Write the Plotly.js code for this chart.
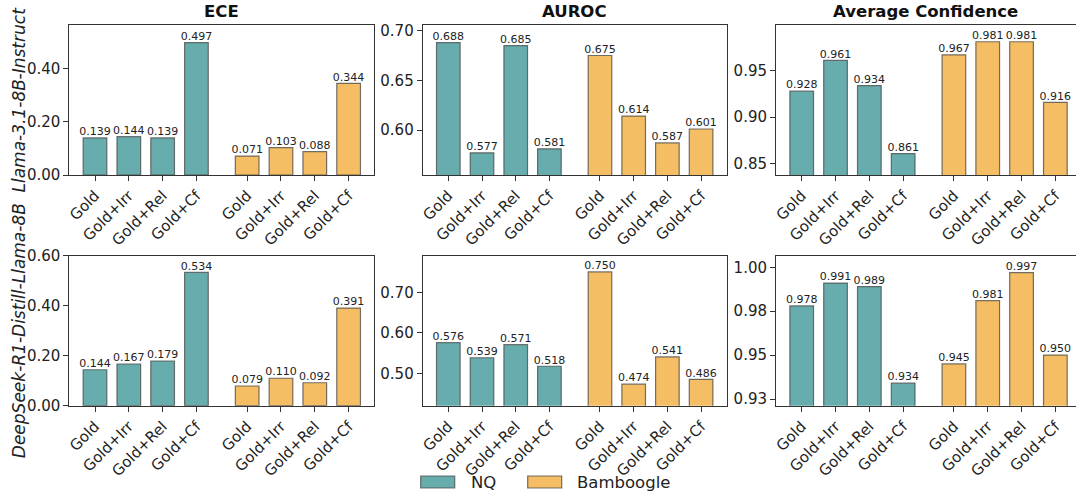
<!DOCTYPE html>
<html>
<head>
<meta charset="utf-8">
<script src="https://cdn.plot.ly/plotly-3.0.1.min.js"></script>
<style>html,body{margin:0;padding:0;background:#fff;}#chart{width:1076px;height:493px;}</style>
</head>
<body>
<div id="chart"></div>
<script>
// ---- data ----
const categories = ['Gold', 'Gold+Irr', 'Gold+Rel', 'Gold+Cf'];
const datasets = ['NQ', 'Bamboogle'];
const metrics = ['ECE', 'AUROC', 'Average Confidence'];
const models = ['Llama-3.1-8B-Instruct', 'DeepSeek-R1-Distill-Llama-8B'];

const llamaEceNQ = [0.139, 0.144, 0.139, 0.497];
const llamaEceBB = [0.071, 0.103, 0.088, 0.344];
const llamaAurocNQ = [0.688, 0.577, 0.685, 0.581];
const llamaAurocBB = [0.675, 0.614, 0.587, 0.601];
const llamaConfNQ = [0.928, 0.961, 0.934, 0.861];
const llamaConfBB = [0.967, 0.981, 0.981, 0.916];

const dsEceNQ = [0.144, 0.167, 0.179, 0.534];
const dsEceBB = [0.079, 0.110, 0.092, 0.391];
const dsAurocNQ = [0.576, 0.539, 0.571, 0.518];
const dsAurocBB = [0.750, 0.474, 0.541, 0.486];
const dsConfNQ = [0.978, 0.991, 0.989, 0.934];
const dsConfBB = [0.945, 0.981, 0.997, 0.950];

// ---- layout / style ----
const colors = {NQ: '#67adad', Bamboogle: '#f5be64'};
const edge = 'rgba(70,70,70,0.75)';
const posNQ = [0, 1, 2, 3];
const posBB = [4.5, 5.5, 6.5, 7.5];
const W = 1076, H = 493;
const colPx = [[69.3, 374.3], [422.7, 726.7], [776, 1076]];
const rowPx = [[25, 175], [255.7, 405.7]];
const xRanges = [[-0.76, 8.26], [-0.76, 8.26], [-0.76, 8.11]];
const yRanges = [
  [[0, 0.563], [0.5547, 0.7057], [0.838, 0.999]],
  [[0, 0.601], [0.421, 0.790], [0.9212, 1.0066]]
];
const yTicks = [
  [{v: [0, 0.2, 0.4], t: ['0.00', '0.20', '0.40']},
   {v: [0.6, 0.65, 0.7], t: ['0.60', '0.65', '0.70']},
   {v: [0.85, 0.9, 0.95], t: ['0.85', '0.90', '0.95']}],
  [{v: [0, 0.2, 0.4, 0.6], t: ['0.00', '0.20', '0.40', '0.60']},
   {v: [0.5, 0.6, 0.7], t: ['0.50', '0.60', '0.70']},
   {v: [0.925, 0.95, 0.975, 1.0], t: ['0.93', '0.95', '0.98', '1.00']}]
];
const values = [
  [[llamaEceNQ, llamaEceBB], [llamaAurocNQ, llamaAurocBB], [llamaConfNQ, llamaConfBB]],
  [[dsEceNQ, dsEceBB], [dsAurocNQ, dsAurocBB], [dsConfNQ, dsConfBB]]
];
// legend placement (px): swatch left edges and text left edges
const legendSwatchX = [420.7, 527.7];
const legendTextX = [469, 575];
const legendY = 482;

const FONT = 'DejaVu Sans, sans-serif';
const traces = [];
const layout = {
  width: W, height: H,
  margin: {l: 0, r: 0, t: 0, b: 0},
  paper_bgcolor: '#fff', plot_bgcolor: '#fff',
  font: {family: FONT, color: '#222'},
  showlegend: false,
  bargap: 0,
  annotations: [],
  shapes: []
};

let idx = 0;
for (let r = 0; r < 2; r++) {
  for (let c = 0; c < 3; c++) {
    idx++;
    const xa = 'xaxis' + (idx === 1 ? '' : idx);
    const ya = 'yaxis' + (idx === 1 ? '' : idx);
    const xr = 'x' + (idx === 1 ? '' : idx);
    const yr = 'y' + (idx === 1 ? '' : idx);
    layout[xa] = {
      domain: [colPx[c][0] / W, Math.min(1, colPx[c][1] / W)],
      anchor: yr, range: xRanges[c],
      tickmode: 'array', tickvals: posNQ.concat(posBB), ticktext: categories.concat(categories),
      tickangle: -45, ticks: 'outside', ticklen: 5, tickwidth: 1, tickcolor: '#333',
      tickfont: {size: 15, family: FONT, color: '#222'},
      showline: true, linecolor: '#333', linewidth: 1, mirror: true,
      showgrid: false, zeroline: false, fixedrange: true
    };
    layout[ya] = {
      domain: [1 - rowPx[r][1] / H, 1 - rowPx[r][0] / H],
      anchor: xr, range: yRanges[r][c],
      tickmode: 'array', tickvals: yTicks[r][c].v, ticktext: yTicks[r][c].t,
      ticks: 'outside', ticklen: 5, tickwidth: 1, tickcolor: '#333',
      tickfont: {size: 15, family: FONT, color: '#222'},
      showline: true, linecolor: '#333', linewidth: 1, mirror: true,
      showgrid: false, zeroline: false, fixedrange: true
    };
    if (c === 0) {
      // row label (model name), placed like a y-axis title
      layout.annotations.push({
        text: '<i>' + models[r] + '</i>', xref: 'paper', yref: 'paper',
        x: 18.5 / W, y: 1 - (rowPx[r][0] + rowPx[r][1]) / 2 / H,
        xanchor: 'center', yanchor: 'middle', textangle: -90, showarrow: false,
        font: {size: 17, family: FONT, color: '#222'}
      });
    }
    if (r === 0) {
      layout.annotations.push({
        text: '<b>' + metrics[c] + '</b>', xref: 'paper', yref: 'paper',
        x: (colPx[c][0] + Math.min(colPx[c][1], 1075)) / 2 / W,
        y: 1 - rowPx[r][0] / H, yanchor: 'bottom', xanchor: 'center', yshift: 2,
        showarrow: false, font: {size: 16.5, family: FONT, color: '#111'}
      });
    }
    const pos = [posNQ, posBB];
    for (let d = 0; d < 2; d++) {
      const name = datasets[d];
      traces.push({
        type: 'bar', x: pos[d], y: values[r][c][d], width: 0.7,
        xaxis: xr, yaxis: yr, name: name, legendgroup: name,
        showlegend: false,
        marker: {color: colors[name], line: {color: edge, width: 1.2}},
        hoverinfo: 'skip'
      });
      traces.push({
        type: 'scatter', mode: 'text', x: pos[d], y: values[r][c][d],
        text: values[r][c][d].map(v => v.toFixed(3)), textposition: 'top center',
        textfont: {size: 11, family: FONT, color: '#222'},
        xaxis: xr, yaxis: yr, showlegend: false, cliponaxis: false, hoverinfo: 'skip'
      });
    }
  }
}

// figure-level legend (below the middle column), built from datasets/colors
datasets.forEach((name, i) => {
  layout.shapes.push({
    type: 'rect', xref: 'paper', yref: 'paper',
    x0: legendSwatchX[i] / W, x1: (legendSwatchX[i] + 34) / W,
    y0: 1 - (legendY + 6) / H, y1: 1 - (legendY - 6) / H,
    fillcolor: colors[name], line: {color: edge, width: 1.2}
  });
  layout.annotations.push({
    text: name, xref: 'paper', yref: 'paper',
    x: legendTextX[i] / W, y: 1 - legendY / H, xanchor: 'left', yanchor: 'middle',
    showarrow: false, font: {size: 16.5, family: FONT, color: '#222'}
  });
});

Plotly.newPlot('chart', traces, layout, {staticPlot: true, displayModeBar: false});
</script>
</body>
</html>
